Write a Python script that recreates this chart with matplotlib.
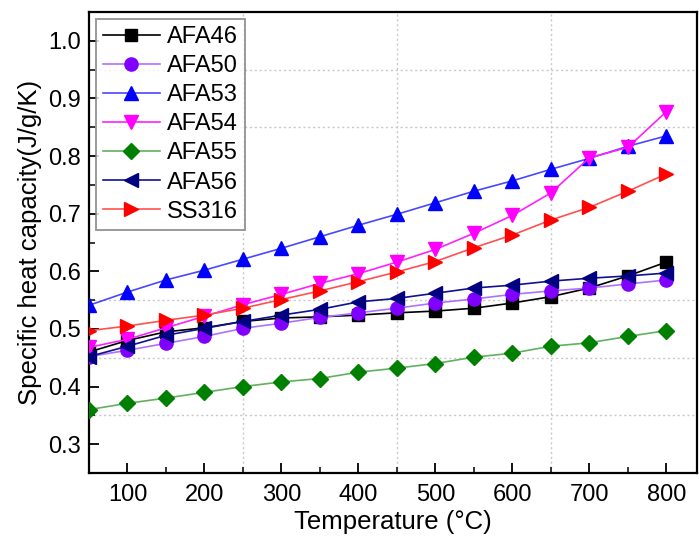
import matplotlib
matplotlib.use("Agg")
import matplotlib.pyplot as plt
from matplotlib.ticker import MultipleLocator

plt.rcParams['font.family'] = ['Liberation Sans', 'DejaVu Sans']

temperature = [50, 100, 150, 200, 250, 300, 350, 400, 450, 500, 550, 600, 650, 700, 750, 800]

afa46 = [0.460, 0.480, 0.495, 0.502, 0.513, 0.519, 0.521, 0.524, 0.528, 0.531, 0.536, 0.545, 0.556, 0.571, 0.592, 0.616]
afa50 = [0.452, 0.463, 0.475, 0.487, 0.501, 0.510, 0.520, 0.528, 0.536, 0.545, 0.552, 0.560, 0.566, 0.571, 0.578, 0.585]
afa53 = [0.541, 0.564, 0.585, 0.602, 0.621, 0.640, 0.660, 0.680, 0.699, 0.719, 0.739, 0.757, 0.777, 0.796, 0.817, 0.835]
afa54 = [0.468, 0.482, 0.502, 0.522, 0.542, 0.560, 0.579, 0.596, 0.616, 0.638, 0.666, 0.697, 0.736, 0.797, 0.815, 0.877]
afa55 = [0.360, 0.371, 0.380, 0.390, 0.400, 0.408, 0.414, 0.425, 0.432, 0.440, 0.451, 0.458, 0.470, 0.476, 0.487, 0.497]
afa56 = [0.452, 0.470, 0.489, 0.501, 0.513, 0.524, 0.534, 0.547, 0.553, 0.562, 0.571, 0.576, 0.583, 0.588, 0.592, 0.597]
ss316 = [0.497, 0.505, 0.515, 0.524, 0.536, 0.551, 0.566, 0.582, 0.599, 0.617, 0.641, 0.663, 0.689, 0.711, 0.739, 0.769]

# (label, values, marker, line colour, marker colour)
series = [
    ("AFA46", afa46, "s", "#000000", "#000000"),
    ("AFA50", afa50, "o", "#B070FF", "#8000FF"),
    ("AFA53", afa53, "^", "#4848FF", "#0000FF"),
    ("AFA54", afa54, "v", "#FF20FF", "#FF00FF"),
    ("AFA55", afa55, "D", "#60B060", "#008000"),
    ("AFA56", afa56, "<", "#101090", "#000080"),
    ("SS316", ss316, ">", "#FF5050", "#FF0000"),
]
marker_sizes = {"s": 8.5, "o": 9.5, "^": 10, "v": 10, "D": 8, "<": 10, ">": 10}

fig = plt.figure(figsize=(6.99, 5.38), dpi=100)
ax = fig.add_axes([0.1273, 0.1208, 0.8700, 0.8569])

for label, vals, mk, lc, mc in series:
    ax.plot(temperature, vals, color=lc, lw=1.2, marker=mk, markersize=marker_sizes[mk],
            markerfacecolor=mc, markeredgecolor=mc, label=label, zorder=3)

# faint dotted guide lines
for gx in [250, 450, 650]:
    ax.axvline(gx, color="#C8C8C8", lw=1.0, ls=(0, (1.5, 2)), zorder=1)
for gy in [0.35, 0.45, 0.55, 0.85, 0.95]:
    ax.axhline(gy, color="#C8C8C8", lw=1.0, ls=(0, (1.5, 2)), zorder=1)

ax.set_xlim(50, 840)
ax.set_ylim(0.25, 1.05)
ax.xaxis.set_minor_locator(MultipleLocator(50))
ax.yaxis.set_minor_locator(MultipleLocator(0.05))
ax.set_xticks(range(100, 801, 100))
yt = [0.3, 0.4, 0.5, 0.6, 0.7, 0.8, 0.9, 1.0]
ax.set_yticks(yt)
ax.set_yticklabels([f"{v:.1f}" for v in yt])

ax.tick_params(which="major", direction="in", length=7, width=1.3, labelsize=17,
               top=False, right=False)
ax.tick_params(axis="x", which="major", pad=8)
ax.tick_params(axis="y", which="major", pad=6)
ax.tick_params(which="minor", direction="in", length=4, width=1.1, top=False, right=False)
for s in ax.spines.values():
    s.set_linewidth(1.6)

ax.set_xlabel("Temperature (\u00b0C)", fontsize=18.5, labelpad=3)
ax.set_ylabel("Specific heat capacity(J/g/K)", fontsize=18.5, labelpad=4)

leg = ax.legend(loc="upper left", fontsize=17, frameon=True, fancybox=False,
                handlelength=2.4, handletextpad=0.3, labelspacing=0.3,
                borderpad=0.3, borderaxespad=0.3)
leg.get_frame().set_edgecolor("#808080")
leg.get_frame().set_linewidth(1.4)

fig.savefig("out.png", dpi=100)
